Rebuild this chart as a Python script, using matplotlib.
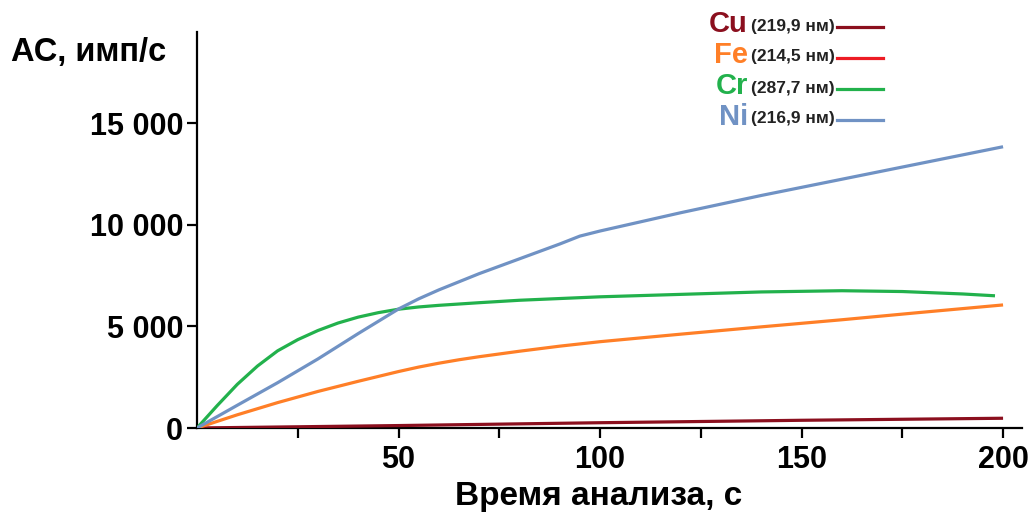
import matplotlib
matplotlib.use("Agg")
import matplotlib.pyplot as plt
from matplotlib.lines import Line2D

plt.rcParams['font.family'] = ['Liberation Sans', 'DejaVu Sans']
plt.rcParams['font.weight'] = 'bold'

# Signal vs. analysis time for each element line
t_cu = [0, 50, 100, 150, 200]
cu = [0, 120, 260, 380, 480]

t_fe = [0, 10, 20, 30, 40, 50, 55, 60, 65, 70, 80, 90, 100, 120, 140, 160, 180, 200]
fe = [0, 650, 1250, 1800, 2300, 2780, 3000, 3190, 3360, 3510, 3780, 4030, 4250, 4620, 4980,
      5330, 5700, 6060]

t_cr = [0, 5, 10, 15, 20, 25, 30, 35, 40, 45, 50, 55, 60, 70, 80, 100, 120, 140, 160, 175,
        190, 198]
cr = [0, 1100, 2150, 3050, 3800, 4350, 4800, 5170, 5460, 5680, 5850, 5960, 6040, 6170, 6290,
      6460, 6580, 6700, 6760, 6720, 6600, 6510]

t_ni = [0, 10, 20, 30, 40, 50, 55, 60, 70, 80, 90, 95, 100, 110, 120, 140, 160, 180, 200]
ni = [0, 1120, 2230, 3400, 4650, 5860, 6360, 6800, 7600, 8330, 9060, 9450, 9700, 10150, 10600,
      11450, 12250, 13050, 13850]

elements = ['Cu', 'Fe', 'Cr', 'Ni']
wavelengths = ['(219,9 нм)', '(214,5 нм)', '(287,7 нм)', '(216,9 нм)']
text_colors = ['#8B0F1E', '#FF7F27', '#22B14C', '#7092C4']
key_colors = ['#8B0F1E', '#ED1C24', '#22B14C', '#7092C4']
line_colors = ['#8B0F1E', '#FF7F27', '#22B14C', '#7092C4']

y_ticks = [0, 5000, 10000, 15000]
y_tick_labels = ['0', '5 000', '10 000', '15 000']
x_ticks = [25, 50, 75, 100, 125, 150, 175, 200]
x_tick_labels = ['', '50', '', '100', '', '150', '', '200']

W, H = 1032, 512
fig = plt.figure(figsize=(W / 100, H / 100), dpi=100)
ax = fig.add_axes([197 / W, 1 - 428 / H, (1022 - 197) / W, (428 - 32) / H])

series = [(t_cu, cu), (t_fe, fe), (t_cr, cr), (t_ni, ni)]
for (t, v), c in zip(series, line_colors):
    ax.plot(t, v, color=c, lw=2.3, solid_capstyle='butt', solid_joinstyle='round', zorder=3)

ax.set_xlim(0, 204.7)
ax.set_ylim(0, 19500)
for s in ['top', 'right']:
    ax.spines[s].set_visible(False)
for s in ['left', 'bottom']:
    ax.spines[s].set_linewidth(1.6)

ax.set_yticks(y_ticks)
ax.set_yticklabels(y_tick_labels)
ax.set_xticks(x_ticks)
ax.set_xticklabels(x_tick_labels)
ax.tick_params(axis='both', direction='out', length=7, width=1.6, labelsize=22, pad=3)
ax.tick_params(axis='x', pad=5)

fig.text(599 / W, 1 - 497 / H, 'Время анализа, с', ha='center', va='center',
         fontsize=24, fontweight='bold')
fig.text(11 / W, 1 - 52 / H, 'АС, имп/с', ha='left', va='center',
         fontsize=23.5, fontweight='bold')

# Hand-built key in the upper right corner
row_y = [24, 55, 86, 117]
for name, wl, tc, kc, y in zip(elements, wavelengths, text_colors, key_colors, row_y):
    fig.text(748 / W, 1 - y / H, name, ha='right', va='center', color=tc,
             fontsize=21, fontweight='bold')
    fig.text(751 / W, 1 - (y + 2) / H, wl, ha='left', va='center', color='#222222',
             fontsize=12.5, fontweight='bold')
    fig.add_artist(Line2D([837 / W, 883 / W], [1 - (y + 3) / H, 1 - (y + 3) / H],
                          color=kc, lw=2.3, transform=fig.transFigure))

fig.savefig('out.png', dpi=100)
